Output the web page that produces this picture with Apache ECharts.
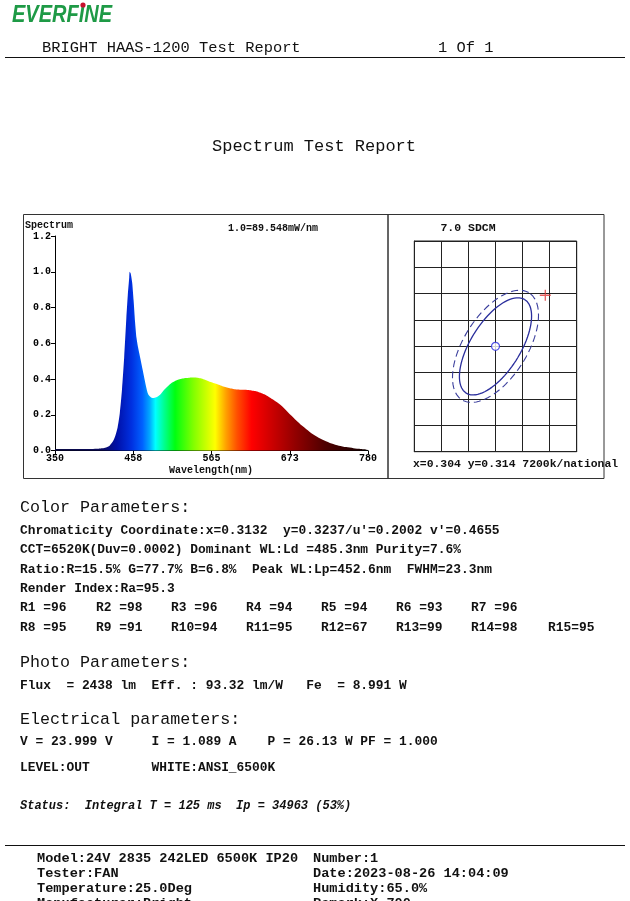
<!DOCTYPE html>
<html><head><meta charset="utf-8">
<script src="https://cdn.jsdelivr.net/npm/echarts@6/dist/echarts.min.js"></script>
<style>html,body{margin:0;padding:0;background:#fff}#c{width:630px;height:901px}</style>
</head><body><div id="c"></div>
<script>
// ---- Spectrum data (relative, 1.0 = 89.548 mW/nm) ----
const wavelengths = [350,380,400,410,415,420,425,430,433,436,439,442,445,448,450,452,452.6,454,456,458,460,462,464,466,469,472,475,478,482,486,490,495,500,505,510,515,520,525,530,535,540,545,550,555,560,565,570,575,580,585,590,595,600,605,610,615,620,625,630,635,640,645,650,660,670,680,690,700,710,720,730,740,750,760,770,780];
const spectrum    = [0.010,0.010,0.010,0.011,0.013,0.018,0.028,0.055,0.085,0.13,0.21,0.34,0.52,0.74,0.87,0.97,1.0,0.99,0.94,0.84,0.72,0.63,0.58,0.54,0.48,0.42,0.36,0.315,0.298,0.295,0.30,0.315,0.34,0.36,0.378,0.39,0.398,0.403,0.406,0.408,0.409,0.408,0.405,0.398,0.39,0.382,0.375,0.368,0.36,0.354,0.349,0.345,0.342,0.341,0.34,0.339,0.337,0.333,0.327,0.32,0.31,0.298,0.285,0.255,0.215,0.175,0.138,0.105,0.078,0.057,0.04,0.028,0.02,0.014,0.010,0.007];
const xTickValues = [350,457.5,565,672.5,780];
const xTickLabels = ['350','458','565','673','780'];
const yTickLabels = ['0.0','0.2','0.4','0.6','0.8','1.0','1.2'];

// ---- SDCM chart data (CIE 1931 x,y) ----
const sdcmGridX = [0.289,0.294,0.299,0.304,0.309,0.314,0.319];
const sdcmGridY = [0.294,0.299,0.304,0.309,0.314,0.319,0.324,0.329,0.334];
const sdcmCenter = [0.304,0.314];
const measuredPoint = [0.3132,0.3237];
const ellipseSolid = [0.0104,0.00463,59];   // semi-major, semi-minor, angle (deg)
const ellipseDashed = [0.0119,0.0059,59];

function ellipsePts(c, e){
  const pts=[]; const th=e[2]*Math.PI/180;
  for(let i=0;i<=180;i++){
    const t=i/180*2*Math.PI;
    const u=e[0]*Math.cos(t), v=e[1]*Math.sin(t);
    pts.push([c[0]+u*Math.cos(th)-v*Math.sin(th), c[1]+u*Math.sin(th)+v*Math.cos(th)]);
  }
  return pts;
}

// spectral colour stops for the fill
const specStops = [[350,'#0a0a40'],[415,'#0a0a60'],[435,'#0010a8'],[455,'#0030e0'],[470,'#0060ff'],[480,'#00a8ff'],[488,'#00ffff'],[500,'#00ff90'],[515,'#00ff10'],[540,'#80ff00'],[570,'#ffff00'],[585,'#ffa000'],[600,'#ff5000'],[620,'#ff0000'],[650,'#c80000'],[680,'#920000'],[720,'#500000'],[780,'#120000']];
const colorStops = specStops.map(s=>({offset:(s[0]-350)/430, color:s[1]}));

const chart = echarts.init(document.getElementById('c'), null, {renderer:'canvas'});
const MONO = '"Liberation Mono", "DejaVu Sans Mono", monospace';
function txt(x,y,text,size,weight,opts){
  return Object.assign({type:'text', x:x, y:y, silent:true, style:Object.assign({text:text, fontFamily:MONO, fontSize:size, fontWeight:weight||'normal', fill:'#111', verticalAlign:'middle', align:'left'}, opts||{})});
}
const rows = [
  txt(20,508,'Color Parameters:',16.7,'normal'),
  txt(20,531,"Chromaticity Coordinate:x=0.3132  y=0.3237/u'=0.2002 v'=0.4655",12.9,'bold'),
  txt(20,550,'CCT=6520K(Duv=0.0002) Dominant WL:Ld =485.3nm Purity=7.6%',12.9,'bold'),
  txt(20,570,'Ratio:R=15.5% G=77.7% B=6.8%  Peak WL:Lp=452.6nm  FWHM=23.3nm',12.9,'bold'),
  txt(20,589,'Render Index:Ra=95.3',12.9,'bold'),
  txt(20,663,'Photo Parameters:',16.7,'normal'),
  txt(20,686,'Flux  = 2438 lm  Eff. : 93.32 lm/W   Fe  = 8.991 W',12.9,'bold'),
  txt(20,720,'Electrical parameters:',16.7,'normal'),
  txt(20,742,'V = 23.999 V     I = 1.089 A    P = 26.13 W PF = 1.000',12.9,'bold'),
  txt(20,768,'LEVEL:OUT        WHITE:ANSI_6500K',12.9,'bold'),
  txt(20,806,'Status:  Integral T = 125 ms  Ip = 34963 (53%)',12,'bold',{fontStyle:'italic'}),
  txt(37,859,'Model:24V 2835 242LED 6500K IP20',13.6,'bold'),
  txt(313,859,'Number:1',13.6,'bold'),
  txt(37,874,'Tester:FAN',13.6,'bold'),
  txt(313,874,'Date:2023-08-26 14:04:09',13.6,'bold'),
  txt(37,889,'Temperature:25.0Deg',13.6,'bold'),
  txt(313,889,'Humidity:65.0%',13.6,'bold'),
  txt(37,904,'Manufacturer:Bright',13.6,'bold'),
  txt(313,904,'Remark:X-700',13.6,'bold')
];
const rLabels1 = ['R1 =96','R2 =98','R3 =96','R4 =94','R5 =94','R6 =93','R7 =96'];
const rLabels2 = ['R8 =95','R9 =91','R10=94','R11=95','R12=67','R13=99','R14=98','R15=95'];
const rX = [20,96,171,246,321,396,471,548];
rLabels1.forEach((t,i)=>rows.push(txt(rX[i],608,t,12.9,'bold')));
rLabels2.forEach((t,i)=>rows.push(txt(rX[i],628,t,12.9,'bold')));

const option = {
  backgroundColor:'#fff',
  animation:false,
  grid:[
    {left:55, top:236, width:313, height:214.7, containLabel:false},
    {left:414.3, top:241, width:162.4, height:210.7, containLabel:false, show:true, borderColor:'#222', borderWidth:1}
  ],
  xAxis:[
    {gridIndex:0, type:'value', min:350, max:780,
     axisLine:{show:true, onZero:false, lineStyle:{color:'#000', width:1}},
     axisTick:{show:true, length:4, lineStyle:{color:'#000'}, customValues:xTickValues},
     axisLabel:{show:true, customValues:xTickValues, margin:3, color:'#000', fontFamily:MONO, fontWeight:'bold', fontSize:10,
       formatter:v=>xTickLabels[xTickValues.indexOf(v)]},
     splitLine:{show:false}},
    {gridIndex:1, type:'value', min:sdcmGridX[0], max:sdcmGridX[sdcmGridX.length-1],
     axisLine:{show:true, onZero:false, lineStyle:{color:'#222'}},
     axisTick:{show:false, customValues:sdcmGridX},
     axisLabel:{show:false, customValues:sdcmGridX},
     splitLine:{show:true, lineStyle:{color:'#222', width:1}}}
  ],
  yAxis:[
    {gridIndex:0, type:'value', min:0, max:1.2, interval:0.2,
     axisLine:{show:true, lineStyle:{color:'#000', width:1}},
     axisTick:{show:true, length:4, lineStyle:{color:'#000'}},
     axisLabel:{show:true, margin:4, color:'#000', fontFamily:MONO, fontWeight:'bold', fontSize:10,
       formatter:v=>yTickLabels[Math.round(v/0.2)]},
     splitLine:{show:false}},
    {gridIndex:1, type:'value', min:sdcmGridY[0], max:sdcmGridY[sdcmGridY.length-1],
     axisLine:{show:true, onZero:false, lineStyle:{color:'#222'}},
     axisTick:{show:false, customValues:sdcmGridY},
     axisLabel:{show:false, customValues:sdcmGridY},
     splitLine:{show:true, lineStyle:{color:'#222', width:1}}}
  ],
  series:[
    {type:'line', xAxisIndex:0, yAxisIndex:0, data:wavelengths.map((w,i)=>[w,spectrum[i]]),
     showSymbol:false, smooth:0.25, lineStyle:{width:0},
     areaStyle:{opacity:1, color:new echarts.graphic.LinearGradient(0,0,1,0,colorStops)}},
    {type:'line', xAxisIndex:1, yAxisIndex:1, data:ellipsePts(sdcmCenter, ellipseSolid), showSymbol:false,
     lineStyle:{color:'#2a2e9c', width:1.3}},
    {type:'line', xAxisIndex:1, yAxisIndex:1, data:ellipsePts(sdcmCenter, ellipseDashed), showSymbol:false,
     lineStyle:{color:'#3a3e9c', width:1.1, type:[7,4]}},
    {type:'scatter', xAxisIndex:1, yAxisIndex:1, data:[sdcmCenter], symbol:'circle', symbolSize:8,
     itemStyle:{color:'#fff', borderColor:'#2a2ee0', borderWidth:1.2}},
    {type:'scatter', xAxisIndex:1, yAxisIndex:1, data:[measuredPoint], symbol:'path://M0,5L10,5M5,0L5,10', symbolSize:11,
     itemStyle:{color:'none', borderColor:'#e03535', borderWidth:1.3}}
  ],
  graphic:[
    {type:'text', x:12, y:16, scaleX:0.87, silent:true, style:{text:'EVERFINE', fontFamily:'"Liberation Sans", Arial, sans-serif', fontSize:23, fontWeight:'bold', fontStyle:'italic', fill:'#1e9a46', verticalAlign:'middle'}},
    {type:'circle', shape:{cx:83, cy:5, r:2.6}, style:{fill:'#c8102e'}, silent:true},
    txt(42,48,'BRIGHT HAAS-1200 Test Report',15.4,'normal'),
    txt(438,48,'1 Of 1',15.4,'normal'),
    {type:'line', shape:{x1:5,y1:57.5,x2:625,y2:57.5}, style:{stroke:'#111', lineWidth:1.2}, silent:true},
    txt(314,146,'Spectrum Test Report',17,'normal',{align:'center'}),
    {type:'rect', shape:{x:23.5,y:214.5,width:364.5,height:264}, style:{fill:'none', stroke:'#333', lineWidth:1}, silent:true},
    {type:'rect', shape:{x:388,y:214.5,width:216,height:264}, style:{fill:'none', stroke:'#333', lineWidth:1}, silent:true},
    txt(25,225,'Spectrum',10,'bold'),
    txt(273,228,'1.0=89.548mW/nm',10,'bold',{align:'center'}),
    txt(211,470,'Wavelength(nm)',10,'bold',{align:'center'}),
    txt(468,228.5,'7.0 SDCM',11.5,'bold',{align:'center'}),
    txt(413,464,'x=0.304 y=0.314 7200k/national',11.4,'bold'),
    {type:'line', shape:{x1:5,y1:845.5,x2:625,y2:845.5}, style:{stroke:'#111', lineWidth:1.2}, silent:true}
  ].concat(rows)
};
chart.setOption(option);
</script></body></html>
